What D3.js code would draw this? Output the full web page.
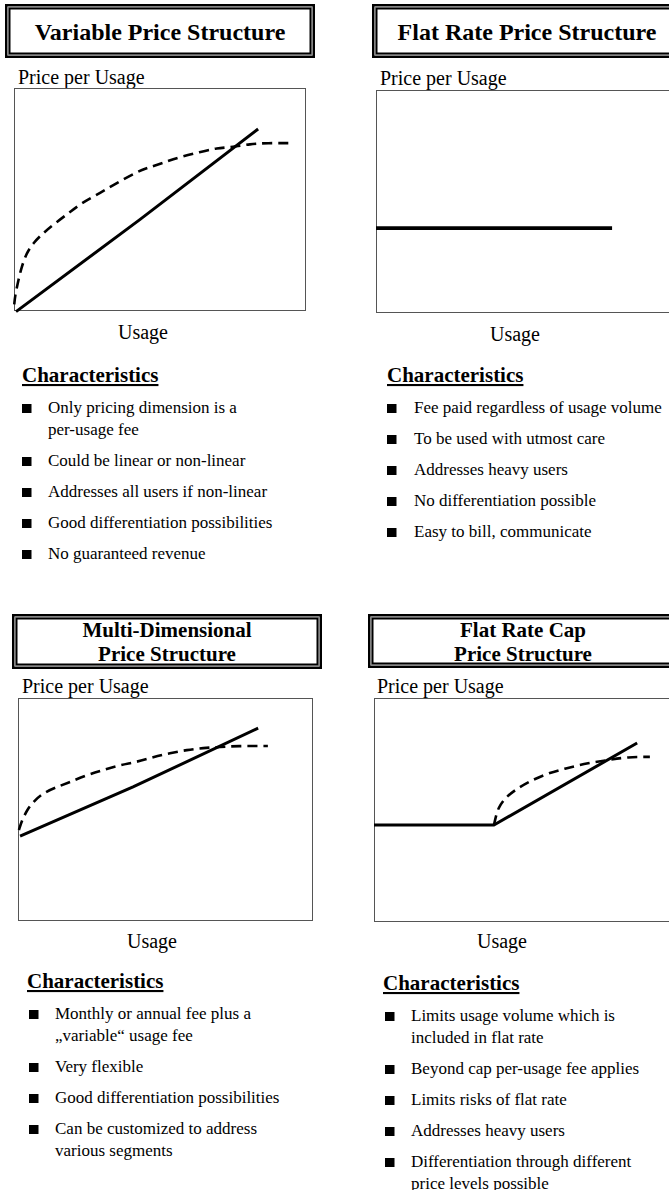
<!DOCTYPE html>
<html><head><meta charset="utf-8">
<script src="https://cdn.jsdelivr.net/npm/d3@7"></script>
<style>
html,body{margin:0;padding:0;background:#fff;}
svg{display:block;font-family:"Liberation Serif","Times New Roman",serif;}
</style></head>
<body>
<svg id="c" width="669" height="1190"></svg>
<script>
// ---------- DATA ----------
const titles = [
  ["Variable Price Structure"],
  ["Flat Rate Price Structure"],
  ["Multi-Dimensional", "Price Structure"],
  ["Flat Rate Cap", "Price Structure"]
];
const yAxisLabel = "Price per Usage";
const xAxisLabel = "Usage";
const sectionLabel = "Characteristics";

// solid price curves (x: usage 0-100, y: price 0-100)
const solidVariable = [[0.7,-0.3],[43.2,41.1],[83.6,81.6]];
const solidFlat = [[0,38.1],[80.3,38.1]];
const solidMulti = [[0.7,38.1],[39,60.1],[81.4,86.5]];
const solidCap = [[0,43.3],[40.5,43.3],[88.9,79.9]];

// dashed (non-linear) price curves
const dashedVariable = [[0.1,3],[0.3,6.3],[1.5,13.9],[2.6,19.7],[4.3,26],[6.6,30.5],[10,35],[14.6,39.9],[19.2,44.4],[23.7,48.9],[29.5,52.9],[35.2,57.4],[42,62.3],[45.5,64.1],[51,66.4],[56.8,69.1],[63.7,71.3],[69.5,73.1],[75,73.5],[80.8,74.9],[86.6,75.3],[95.5,75.3]];
const dashedFlat = [];
const dashedMulti = [[0.3,40.8],[1.4,45.3],[3.1,49.8],[5.1,53.4],[8.5,57.4],[13.2,60.1],[17.6,62.3],[23.4,65.5],[28.8,67.7],[34.6,70],[40.3,71.3],[45.8,73.5],[51.5,75.3],[57.3,76.7],[62.7,77.6],[68.5,78],[74.2,78.5],[84.7,78.5]];
const dashedCap = [[40.5,43.3],[40.9,45.5],[41.9,50.9],[44.3,55.4],[47.6,58.9],[52,62.5],[58.8,66.5],[65.5,68.8],[72.3,71],[79.1,72.3],[85.8,73.7],[93.2,73.7]];

const bulletsVariable = [["Only pricing dimension is a","per-usage fee"],["Could be linear or non-linear"],["Addresses all users if non-linear"],["Good differentiation possibilities"],["No guaranteed revenue"]];
const bulletsFlat = [["Fee paid regardless of usage volume"],["To be used with utmost care"],["Addresses heavy users"],["No differentiation possible"],["Easy to bill, communicate"]];
const bulletsMulti = [["Monthly or annual fee plus a","\u201Evariable\u201C usage fee"],["Very flexible"],["Good differentiation possibilities"],["Can be customized to address","various segments"]];
const bulletsCap = [["Limits usage volume which is","included in flat rate"],["Beyond cap per-usage fee applies"],["Limits risks of flat rate"],["Addresses heavy users"],["Differentiation through different","price levels possible"]];

// ---------- LAYOUT ----------
const layout = [
  {title:[5,4,310,54], titleSize:24, titleBase:[40], ylab:[18,84], plot:[14,88,292,223], xlab:[143,339], ch:[22,382], bx:22, tx:48,
   solid:solidVariable, dashed:dashedVariable, bullets:bulletsVariable, sw:3},
  {title:[372,4,310,54], titleSize:24, titleBase:[40], ylab:[380,85], plot:[376,90,294,223], xlab:[515,341], ch:[387,382], bx:387, tx:414,
   solid:solidFlat, dashed:dashedFlat, bullets:bulletsFlat, sw:3.8},
  {title:[12,614,310,55], titleSize:21, titleBase:[637,661], ylab:[22,693], plot:[18,698,295,223], xlab:[152,948], ch:[27,988], bx:29, tx:55,
   solid:solidMulti, dashed:dashedMulti, bullets:bulletsMulti, sw:3},
  {title:[368,614,310,54], titleSize:21, titleBase:[637,661], ylab:[377,693], plot:[374,698,296,224], xlab:[502,948], ch:[383,990], bx:385, tx:411,
   solid:solidCap, dashed:dashedCap, bullets:bulletsCap, sw:3}
];

const svg = d3.select("#c");

layout.forEach((p, i) => {
  const g = svg.append("g");
  // title box (double border)
  const [bx0, by0, bw, bh] = p.title;
  g.append("rect").attr("x", bx0+1.25).attr("y", by0+1.25).attr("width", bw-2.5).attr("height", bh-2.5)
    .attr("fill", "#fff").attr("stroke", "#000").attr("stroke-width", 2.5);
  g.append("rect").attr("x", bx0+3).attr("y", by0+3).attr("width", bw-6).attr("height", bh-6)
    .attr("fill", "none").attr("stroke", "#8a8a8a").attr("stroke-width", 1);
  g.append("rect").attr("x", bx0+4.5).attr("y", by0+4.5).attr("width", bw-9).attr("height", bh-9)
    .attr("fill", "none").attr("stroke", "#000").attr("stroke-width", 2);
  titles[i].forEach((t, k) => {
    g.append("text").attr("x", bx0 + bw/2).attr("y", p.titleBase[k])
      .attr("text-anchor", "middle").attr("font-weight", "bold").attr("font-size", p.titleSize)
      .attr("fill", "#000").text(t);
  });

  // axis labels
  g.append("text").attr("x", p.ylab[0]).attr("y", p.ylab[1]).attr("font-size", 20).text(yAxisLabel);
  g.append("text").attr("x", p.xlab[0]).attr("y", p.xlab[1]).attr("font-size", 20)
    .attr("text-anchor", "middle").text(xAxisLabel);

  // plot
  const [px, py, pw, ph] = p.plot;
  g.append("rect").attr("x", px+0.5).attr("y", py+0.5).attr("width", pw-1).attr("height", ph-1)
    .attr("fill", "#fff").attr("stroke", "#555").attr("stroke-width", 1);
  const x = d3.scaleLinear().domain([0, 100]).range([px, px + pw]);
  const y = d3.scaleLinear().domain([0, 100]).range([py + ph, py]);
  if (p.dashed.length) {
    const ld = d3.line().x(d => x(d[0])).y(d => y(d[1])).curve(d3.curveBasis);
    g.append("path").attr("d", ld(p.dashed)).attr("fill", "none").attr("stroke", "#000")
      .attr("stroke-width", 2.6).attr("stroke-dasharray", "10,6");
  }
  const ls = d3.line().x(d => x(d[0])).y(d => y(d[1]));
  g.append("path").attr("d", ls(p.solid)).attr("fill", "none").attr("stroke", "#000")
    .attr("stroke-width", p.sw).attr("stroke-linejoin", "miter");

  // characteristics
  g.append("text").attr("x", p.ch[0]).attr("y", p.ch[1]).attr("font-size", 21).attr("font-weight", "bold")
    .attr("text-decoration", "underline").text(sectionLabel);
  let base = p.ch[1] + 31;
  p.bullets.forEach(item => {
    g.append("rect").attr("x", p.bx).attr("y", base - 9).attr("width", 9.5).attr("height", 9).attr("fill", "#000");
    item.forEach((line, k) => {
      g.append("text").attr("x", p.tx).attr("y", base + k*22).attr("font-size", 17).text(line);
    });
    base += 31 + (item.length - 1) * 22;
  });
});
</script>
</body></html>
